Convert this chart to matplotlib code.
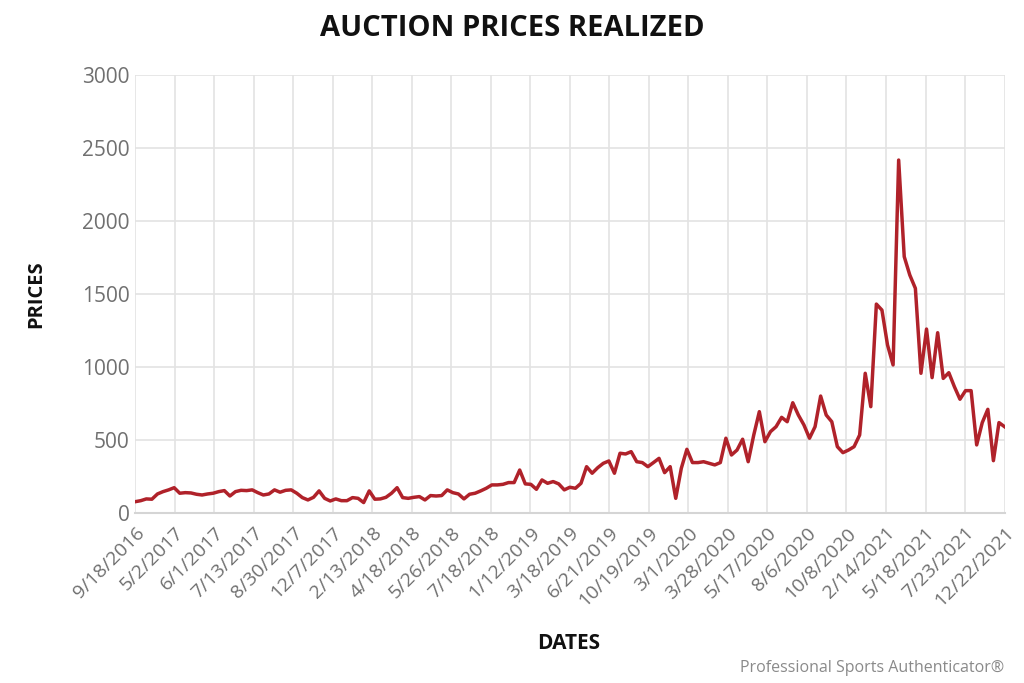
import matplotlib
matplotlib.use("Agg")
import matplotlib.pyplot as plt
import numpy as np

tick_labels = ["9/18/2016", "5/2/2017", "6/1/2017", "7/13/2017", "8/30/2017",
               "12/7/2017", "2/13/2018", "4/18/2018", "5/26/2018", "7/18/2018",
               "1/12/2019", "3/18/2019", "6/21/2019", "10/19/2019", "3/1/2020",
               "3/28/2020", "5/17/2020", "8/6/2020", "10/8/2020", "2/14/2021",
               "5/18/2021", "7/23/2021", "12/22/2021"]

prices = [
    77, 84, 96, 94, 130, 146, 158, 173, 135, 139, 137, 128, 123, 130, 135, 146,
    153, 116, 146, 155, 153, 158, 139, 123, 130, 158, 142, 155, 158, 135, 105, 89,
    107, 151, 100, 82, 96, 84, 84, 105, 100, 71, 151, 94, 96, 107, 135, 173, 105,
    100, 107, 112, 89, 119, 116, 119, 158, 139, 130, 96,
    128, 135, 151, 169, 192, 192, 196, 208, 208, 294, 199, 196, 162, 226, 203, 215,
    199, 158, 176, 169, 203, 317, 272, 310, 340, 356, 272, 409, 404, 420,
    351, 345, 317, 345, 374, 276, 317, 100, 306, 436, 345, 345, 351, 340, 329, 345,
    512, 397, 431, 505, 351, 534, 694, 488, 557, 591, 655, 625,
    755, 671, 603, 512, 591, 801, 671, 625, 454, 413, 431, 454, 534, 957, 728, 1431,
    1390, 1151, 1014,
    2418, 1756, 1630, 1539, 957, 1260, 927, 1235, 922, 961, 865, 779, 838, 838, 466,
    619, 710, 358, 619, 591,
]

y_ticks = [0, 500, 1000, 1500, 2000, 2500, 3000]

fig = plt.figure(figsize=(10.24, 6.83), dpi=100)
ax = fig.add_axes([0.132, 0.249, 0.849, 0.641])

n = len(prices)
x = np.arange(n)
ax.plot(x, prices, color="#B0222A", lw=2.5, solid_joinstyle="round", zorder=3)

tick_pos = np.linspace(0, n - 1, len(tick_labels))
ax.set_xlim(0, n - 1)
ax.set_ylim(0, 3000)
ax.set_xticks(tick_pos)
ax.set_xticklabels(tick_labels, rotation=45, ha="right", rotation_mode="anchor",
                   fontsize=14, color="#707070", family="Open Sans")
ax.set_yticks(y_ticks)
ax.set_yticklabels([str(v) for v in y_ticks], fontsize=15, color="#707070",
                   family="Open Sans")
ax.tick_params(axis="both", length=0)
ax.tick_params(axis="y", pad=4)
ax.tick_params(axis="x", pad=8)
ax.grid(True, color="#e3e3e3", lw=1.2, zorder=0)
for s in ["top", "right", "left"]:
    ax.spines[s].set_visible(False)
ax.spines["bottom"].set_color("#d5d5d5")
ax.spines["bottom"].set_linewidth(1.5)

fig.text(0.5, 0.958, "AUCTION PRICES REALIZED", ha="center", va="center",
         fontsize=21, fontweight="bold", family="Open Sans", color="#111111")
fig.text(0.035, 0.57, "PRICES", rotation=90, ha="center", va="center",
         fontsize=14.5, fontweight="bold", family="Open Sans", color="#111111")
fig.text(0.555, 0.058, "DATES", ha="center", va="center",
         fontsize=15, fontweight="bold", family="Open Sans", color="#111111")
fig.text(0.981, 0.022, "Professional Sports Authenticator\u00ae", ha="right",
         va="center", fontsize=11.5, family="Open Sans", color="#8a8a8a")

fig.savefig("out.png", dpi=100, facecolor="white")
